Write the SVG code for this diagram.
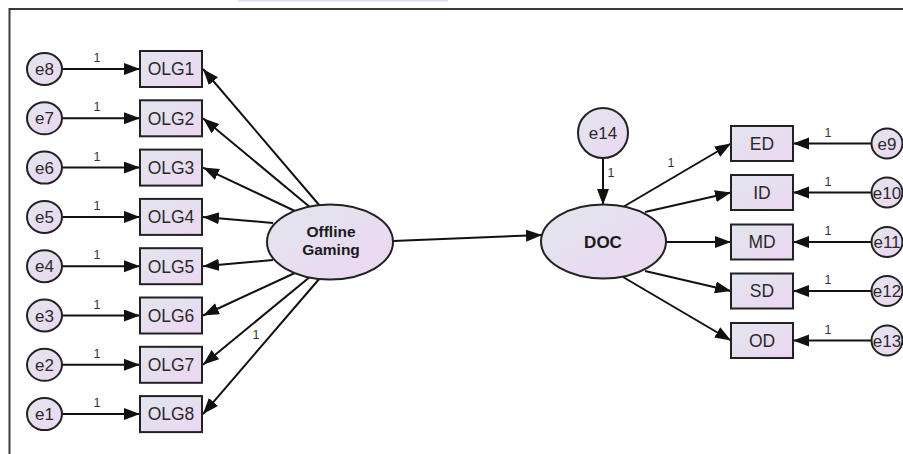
<svg xmlns="http://www.w3.org/2000/svg" width="903" height="454" viewBox="0 0 903 454">
<defs>
<linearGradient id="g" x1="0" y1="0" x2="1" y2="1">
<stop offset="0" stop-color="#e1e6ee"/>
<stop offset="1" stop-color="#edd6f2"/>
</linearGradient>
<marker id="ah" markerUnits="userSpaceOnUse" markerWidth="18" markerHeight="14" refX="16" refY="6" orient="auto">
<path d="M0,0 L16,6 L0,12 z" fill="#111"/>
</marker>
<style>
.n{fill:url(#g);stroke:#222;stroke-width:2}
.t{font-family:"Liberation Sans",Arial,sans-serif;font-size:17px;fill:#2a2a2a;text-anchor:middle}
.r{font-size:17.5px}
.b{font-family:"Liberation Sans",Arial,sans-serif;font-weight:bold;fill:#1a1a1a;text-anchor:middle}
.o{font-family:"Liberation Sans",Arial,sans-serif;font-size:12.5px;fill:#333;text-anchor:middle}
.c line{stroke:#111;stroke-width:2;marker-end:url(#ah)}
</style>
</defs>
<rect width="903" height="454" fill="#fff"/>
<rect x="238" y="0" width="210" height="1.5" fill="#e6d6f8"/>
<path d="M9.5,454 V9 H903" fill="none" stroke="#3a3a3a" stroke-width="2"/>

<g id="connectors" class="c">
<line x1="62" y1="69" x2="140" y2="69"/>
<line x1="62" y1="118.3" x2="140" y2="118.3"/>
<line x1="62" y1="167.6" x2="140" y2="167.6"/>
<line x1="62" y1="216.9" x2="140" y2="216.9"/>
<line x1="62" y1="266.2" x2="140" y2="266.2"/>
<line x1="62" y1="315.5" x2="140" y2="315.5"/>
<line x1="62" y1="364.8" x2="140" y2="364.8"/>
<line x1="62" y1="414.1" x2="140" y2="414.1"/>
<line x1="320" y1="206" x2="203" y2="69"/>
<line x1="311" y1="208" x2="203" y2="118.3"/>
<line x1="297" y1="212" x2="203" y2="167.6"/>
<line x1="273" y1="223" x2="203" y2="216.9"/>
<line x1="273" y1="260" x2="203" y2="266.2"/>
<line x1="297" y1="272" x2="203" y2="315.5"/>
<line x1="311" y1="276" x2="203" y2="364.8"/>
<line x1="320" y1="278" x2="203" y2="414.1"/>
<line x1="393" y1="241" x2="542" y2="235"/>
<line x1="603" y1="158" x2="603" y2="205"/>
<line x1="623" y1="207" x2="731" y2="143.5"/>
<line x1="645" y1="212" x2="731" y2="192.5"/>
<line x1="666" y1="242" x2="731" y2="242"/>
<line x1="645" y1="271" x2="731" y2="291"/>
<line x1="623" y1="277" x2="731" y2="340.5"/>
<line x1="871" y1="143.5" x2="793" y2="143.5"/>
<line x1="871" y1="192.5" x2="793" y2="192.5"/>
<line x1="871" y1="242" x2="793" y2="242"/>
<line x1="871" y1="291" x2="793" y2="291"/>
<line x1="871" y1="340.5" x2="793" y2="340.5"/>
</g>

<g id="path-labels">
<text class="o" x="97" y="62">1</text>
<text class="o" x="97" y="111.3">1</text>
<text class="o" x="97" y="160.6">1</text>
<text class="o" x="97" y="209.9">1</text>
<text class="o" x="97" y="259.2">1</text>
<text class="o" x="97" y="308.5">1</text>
<text class="o" x="97" y="357.8">1</text>
<text class="o" x="97" y="407.1">1</text>
<text class="o" x="256" y="339">1</text>
<text class="o" x="611" y="177">1</text>
<text class="o" x="671" y="167">1</text>
<text class="o" x="828" y="136.5">1</text>
<text class="o" x="828" y="185.5">1</text>
<text class="o" x="828" y="235">1</text>
<text class="o" x="828" y="284">1</text>
<text class="o" x="828" y="333.5">1</text>
</g>

<g id="e8"><ellipse class="n" cx="44.5" cy="69" rx="17.5" ry="16"/><text class="t" x="44.5" y="75">e8</text></g>
<g id="e7"><ellipse class="n" cx="44.5" cy="118.3" rx="17.5" ry="16"/><text class="t" x="44.5" y="124.3">e7</text></g>
<g id="e6"><ellipse class="n" cx="44.5" cy="167.6" rx="17.5" ry="16"/><text class="t" x="44.5" y="173.6">e6</text></g>
<g id="e5"><ellipse class="n" cx="44.5" cy="216.9" rx="17.5" ry="16"/><text class="t" x="44.5" y="222.9">e5</text></g>
<g id="e4"><ellipse class="n" cx="44.5" cy="266.2" rx="17.5" ry="16"/><text class="t" x="44.5" y="272.2">e4</text></g>
<g id="e3"><ellipse class="n" cx="44.5" cy="315.5" rx="17.5" ry="16"/><text class="t" x="44.5" y="321.5">e3</text></g>
<g id="e2"><ellipse class="n" cx="44.5" cy="364.8" rx="17.5" ry="16"/><text class="t" x="44.5" y="370.8">e2</text></g>
<g id="e1"><ellipse class="n" cx="44.5" cy="414.1" rx="17.5" ry="16"/><text class="t" x="44.5" y="420.1">e1</text></g>

<g id="OLG1"><rect class="n" x="140" y="51" width="62" height="36"/><text class="t r" x="171" y="75.3">OLG1</text></g>
<g id="OLG2"><rect class="n" x="140" y="100.3" width="62" height="36"/><text class="t r" x="171" y="124.6">OLG2</text></g>
<g id="OLG3"><rect class="n" x="140" y="149.6" width="62" height="36"/><text class="t r" x="171" y="173.9">OLG3</text></g>
<g id="OLG4"><rect class="n" x="140" y="198.9" width="62" height="36"/><text class="t r" x="171" y="223.2">OLG4</text></g>
<g id="OLG5"><rect class="n" x="140" y="248.2" width="62" height="36"/><text class="t r" x="171" y="272.5">OLG5</text></g>
<g id="OLG6"><rect class="n" x="140" y="297.5" width="62" height="36"/><text class="t r" x="171" y="321.8">OLG6</text></g>
<g id="OLG7"><rect class="n" x="140" y="346.8" width="62" height="36"/><text class="t r" x="171" y="371.1">OLG7</text></g>
<g id="OLG8"><rect class="n" x="140" y="396.1" width="62" height="36"/><text class="t r" x="171" y="420.4">OLG8</text></g>

<g id="offline-gaming"><ellipse class="n" cx="330" cy="242" rx="63" ry="37.5"/><text class="b" x="331" y="237" font-size="15.5">Offline</text><text class="b" x="331" y="255" font-size="15.5">Gaming</text></g>

<g id="DOC"><ellipse class="n" cx="603.5" cy="241.5" rx="62.5" ry="37"/><text class="b" x="603" y="248" font-size="17">DOC</text></g>
<g id="e14"><circle class="n" cx="603" cy="133" r="25"/><text class="t" x="603" y="139">e14</text></g>

<g id="ED"><rect class="n" x="731" y="126" width="62" height="35"/><text class="t r" x="762" y="149.8">ED</text></g>
<g id="ID"><rect class="n" x="731" y="175" width="62" height="35"/><text class="t r" x="762" y="198.8">ID</text></g>
<g id="MD"><rect class="n" x="731" y="224.5" width="62" height="35"/><text class="t r" x="762" y="248.3">MD</text></g>
<g id="SD"><rect class="n" x="731" y="273.5" width="62" height="35"/><text class="t r" x="762" y="297.3">SD</text></g>
<g id="OD"><rect class="n" x="731" y="323" width="62" height="35"/><text class="t r" x="762" y="346.8">OD</text></g>

<g id="e9"><ellipse class="n" cx="887" cy="143.5" rx="15.5" ry="15"/><text class="t" x="887" y="149.5">e9</text></g>
<g id="e10"><ellipse class="n" cx="887" cy="192.5" rx="15.5" ry="15"/><text class="t" x="887" y="198.5">e10</text></g>
<g id="e11"><ellipse class="n" cx="887" cy="242" rx="15.5" ry="15"/><text class="t" x="887" y="248">e11</text></g>
<g id="e12"><ellipse class="n" cx="887" cy="291" rx="15.5" ry="15"/><text class="t" x="887" y="297">e12</text></g>
<g id="e13"><ellipse class="n" cx="887" cy="340.5" rx="15.5" ry="15"/><text class="t" x="887" y="346.5">e13</text></g>
</svg>
